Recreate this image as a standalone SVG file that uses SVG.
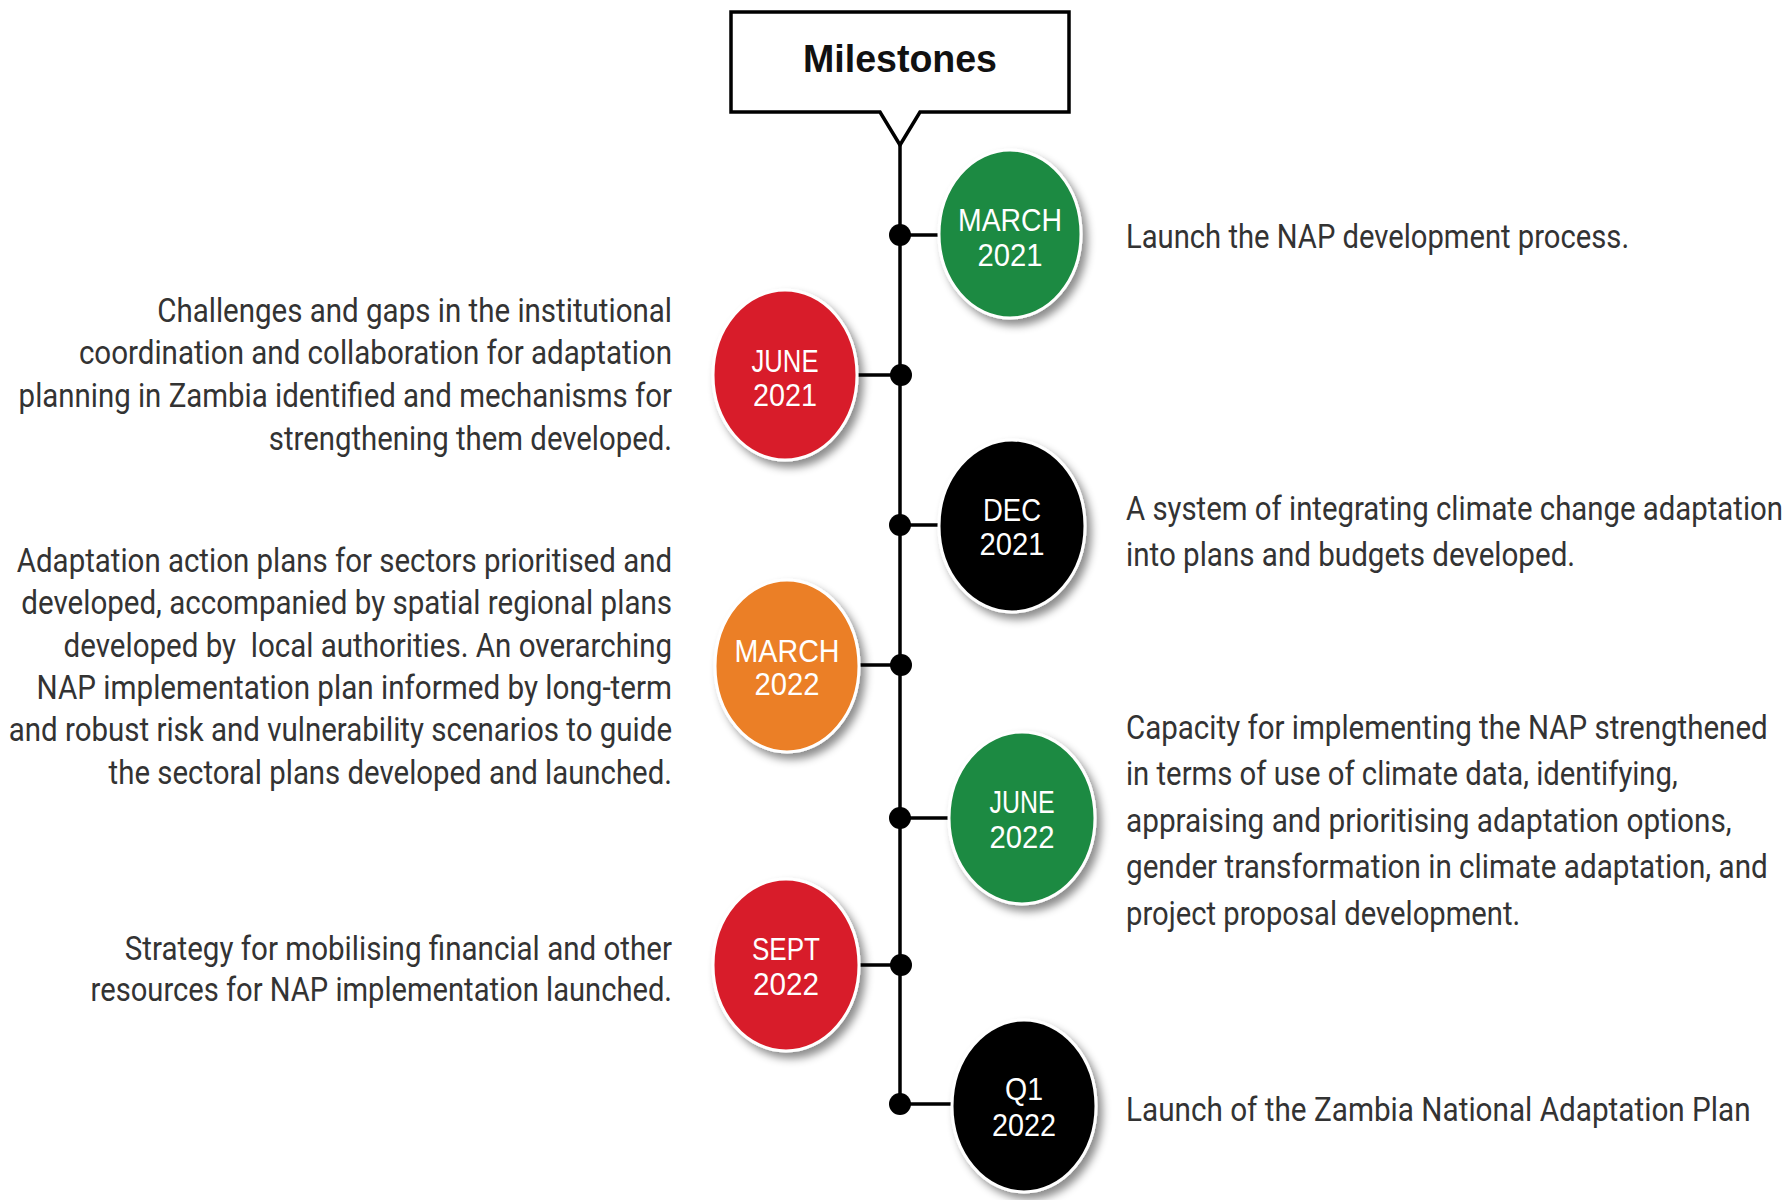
<svg xmlns="http://www.w3.org/2000/svg" width="1792" height="1200" viewBox="0 0 1792 1200">
<style>
.desc{font-family:Roboto,"Liberation Sans",sans-serif;font-size:33px;fill:#333333;}
.l{text-anchor:end;}
.lbl{font-family:"Liberation Sans",Arial,sans-serif;font-size:31px;fill:#ffffff;text-anchor:middle;}
.circ{stroke:#ffffff;stroke-width:3;filter:url(#sh);}
.conn{stroke:#000;stroke-width:3.5;fill:none;}
.dot{fill:#000;}
</style>
<defs>
<filter id="sh" x="-30%" y="-30%" width="160%" height="160%">
<feDropShadow dx="5" dy="6" stdDeviation="4" flood-color="#000" flood-opacity="0.45"/>
</filter>
</defs>
<rect width="1792" height="1200" fill="#ffffff"/>

<g id="title">
<path d="M731,12 H1069 V112 H920 L900,145 L880,112 H731 Z" fill="#ffffff" stroke="#000" stroke-width="3.5" stroke-linejoin="miter"/>
<text x="900" y="72" font-family="'Liberation Sans',Arial,sans-serif" font-size="39" font-weight="bold" fill="#111" text-anchor="middle" textLength="194" lengthAdjust="spacingAndGlyphs">Milestones</text>
</g>

<g id="connectors">
<line class="conn" x1="900" y1="145" x2="900" y2="1104"/>
<line class="conn" x1="900" y1="235" x2="940" y2="235"/>
<line class="conn" x1="858" y1="375" x2="900" y2="375"/>
<line class="conn" x1="900" y1="525" x2="940" y2="525"/>
<line class="conn" x1="860" y1="665" x2="900" y2="665"/>
<line class="conn" x1="900" y1="818" x2="950" y2="818"/>
<line class="conn" x1="858" y1="965" x2="900" y2="965"/>
<line class="conn" x1="900" y1="1104" x2="952" y2="1104"/>
<circle class="dot" cx="900" cy="235" r="11"/>
<circle class="dot" cx="901" cy="375" r="11"/>
<circle class="dot" cx="900" cy="525" r="11"/>
<circle class="dot" cx="901" cy="665" r="11"/>
<circle class="dot" cx="900" cy="818" r="11"/>
<circle class="dot" cx="901" cy="965" r="11"/>
<circle class="dot" cx="900" cy="1104" r="11"/>
</g>

<g id="m-march-2021">
<ellipse class="circ" cx="1010" cy="234" rx="71" ry="84" fill="#1f8a43"/>
<text class="lbl" x="1010" y="231" textLength="104" lengthAdjust="spacingAndGlyphs" fill="#e6fbe6">MARCH</text>
<text class="lbl" x="1010" y="266" textLength="65" lengthAdjust="spacingAndGlyphs" fill="#e6fbe6">2021</text>
<g transform="translate(1126 0) scale(0.9 1)">
<text class="desc" x="0" y="248" textLength="559" lengthAdjust="spacingAndGlyphs">Launch the NAP development process.</text>
</g>
</g>

<g id="m-june-2021">
<ellipse class="circ" cx="785" cy="375" rx="72" ry="85" fill="#d81f2a"/>
<text class="lbl" x="785" y="372" textLength="67" lengthAdjust="spacingAndGlyphs">JUNE</text>
<text class="lbl" x="785" y="406" textLength="64" lengthAdjust="spacingAndGlyphs">2021</text>
<g transform="translate(672 0) scale(0.9 1)">
<text class="desc l" x="0" y="322" textLength="572" lengthAdjust="spacingAndGlyphs">Challenges and gaps in the institutional</text>
<text class="desc l" x="0" y="364" textLength="659" lengthAdjust="spacingAndGlyphs">coordination and collaboration for adaptation</text>
<text class="desc l" x="0" y="407" textLength="726" lengthAdjust="spacingAndGlyphs">planning in Zambia identified and mechanisms for</text>
<text class="desc l" x="0" y="450" textLength="448" lengthAdjust="spacingAndGlyphs">strengthening them developed.</text>
</g>
</g>

<g id="m-dec-2021">
<ellipse class="circ" cx="1012" cy="526" rx="73" ry="86" fill="#050505"/>
<text class="lbl" x="1012" y="521" textLength="58" lengthAdjust="spacingAndGlyphs">DEC</text>
<text class="lbl" x="1012" y="555" textLength="65" lengthAdjust="spacingAndGlyphs">2021</text>
<g transform="translate(1126 0) scale(0.9 1)">
<text class="desc" x="0" y="520" textLength="730" lengthAdjust="spacingAndGlyphs">A system of integrating climate change adaptation</text>
<text class="desc" x="0" y="566" textLength="499" lengthAdjust="spacingAndGlyphs">into plans and budgets developed.</text>
</g>
</g>

<g id="m-march-2022">
<ellipse class="circ" cx="787" cy="666" rx="72" ry="86" fill="#eb7f25"/>
<text class="lbl" x="787" y="662" textLength="105" lengthAdjust="spacingAndGlyphs" fill="#fff4e4">MARCH</text>
<text class="lbl" x="787" y="695" textLength="65" lengthAdjust="spacingAndGlyphs" fill="#fff4e4">2022</text>
<g transform="translate(672 0) scale(0.9 1)">
<text class="desc l" x="0" y="572" textLength="728" lengthAdjust="spacingAndGlyphs">Adaptation action plans for sectors prioritised and</text>
<text class="desc l" x="0" y="614" textLength="723" lengthAdjust="spacingAndGlyphs">developed, accompanied by spatial regional plans</text>
<text class="desc l" x="0" y="657" textLength="676" lengthAdjust="spacingAndGlyphs" xml:space="preserve">developed by  local authorities. An overarching</text>
<text class="desc l" x="0" y="699" textLength="706" lengthAdjust="spacingAndGlyphs">NAP implementation plan informed by long-term</text>
<text class="desc l" x="0" y="741" textLength="737" lengthAdjust="spacingAndGlyphs">and robust risk and vulnerability scenarios to guide</text>
<text class="desc l" x="0" y="784" textLength="626" lengthAdjust="spacingAndGlyphs">the sectoral plans developed and launched.</text>
</g>
</g>

<g id="m-june-2022">
<ellipse class="circ" cx="1022" cy="818" rx="73" ry="86" fill="#1f8a43"/>
<text class="lbl" x="1022" y="813" textLength="65" lengthAdjust="spacingAndGlyphs" fill="#e6fbe6">JUNE</text>
<text class="lbl" x="1022" y="848" textLength="65" lengthAdjust="spacingAndGlyphs" fill="#e6fbe6">2022</text>
<g transform="translate(1126 0) scale(0.9 1)">
<text class="desc" x="0" y="739" textLength="713" lengthAdjust="spacingAndGlyphs">Capacity for implementing the NAP strengthened</text>
<text class="desc" x="0" y="785" textLength="613" lengthAdjust="spacingAndGlyphs">in terms of use of climate data, identifying,</text>
<text class="desc" x="0" y="832" textLength="673" lengthAdjust="spacingAndGlyphs">appraising and prioritising adaptation options,</text>
<text class="desc" x="0" y="878" textLength="713" lengthAdjust="spacingAndGlyphs">gender transformation in climate adaptation, and</text>
<text class="desc" x="0" y="925" textLength="438" lengthAdjust="spacingAndGlyphs">project proposal development.</text>
</g>
</g>

<g id="m-sept-2022">
<ellipse class="circ" cx="786" cy="965" rx="73" ry="86" fill="#d81f2a"/>
<text class="lbl" x="786" y="960" textLength="68" lengthAdjust="spacingAndGlyphs">SEPT</text>
<text class="lbl" x="786" y="995" textLength="66" lengthAdjust="spacingAndGlyphs">2022</text>
<g transform="translate(672 0) scale(0.9 1)">
<text class="desc l" x="0" y="960" textLength="608" lengthAdjust="spacingAndGlyphs">Strategy for mobilising financial and other</text>
<text class="desc l" x="0" y="1001" textLength="646" lengthAdjust="spacingAndGlyphs">resources for NAP implementation launched.</text>
</g>
</g>

<g id="m-q1-2022">
<ellipse class="circ" cx="1024" cy="1106" rx="72" ry="86" fill="#050505"/>
<text class="lbl" x="1024" y="1100" textLength="38" lengthAdjust="spacingAndGlyphs">Q1</text>
<text class="lbl" x="1024" y="1136" textLength="64" lengthAdjust="spacingAndGlyphs">2022</text>
<g transform="translate(1126 0) scale(0.9 1)">
<text class="desc" x="0" y="1121" textLength="694" lengthAdjust="spacingAndGlyphs">Launch of the Zambia National Adaptation Plan</text>
</g>
</g>
</svg>
